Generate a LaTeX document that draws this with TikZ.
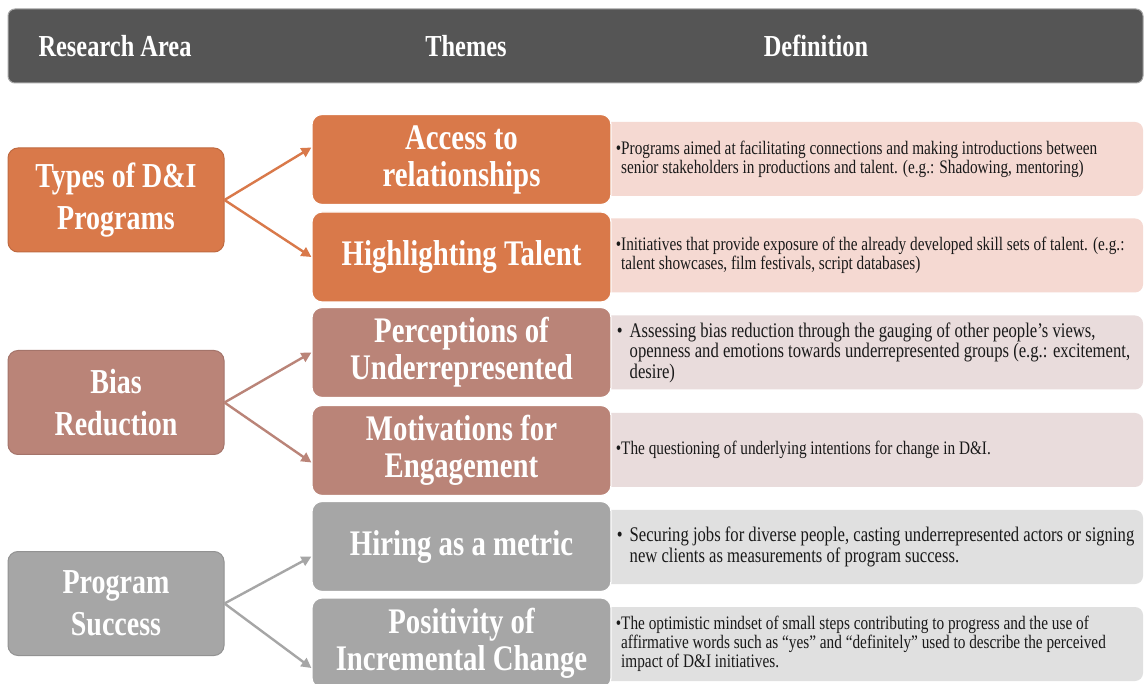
\documentclass[tikz,border=0pt]{standalone}
\usepackage{fontspec}
\setmainfont{Liberation Serif}[FakeStretch=0.8]
\usetikzlibrary{arrows.meta}

\definecolor{headgray}{HTML}{555555}
\definecolor{typesclr}{HTML}{D9794A}
\definecolor{biasclr}{HTML}{BA8478}
\definecolor{succclr}{HTML}{A6A6A6}
\definecolor{typesdef}{HTML}{F5D9D2}
\definecolor{biasdef}{HTML}{E9DCDC}
\definecolor{succdef}{HTML}{E0E0E0}

\newcommand{\bul}{\llap{\textbullet}}
\newcommand{\widebul}{\llap{\textbullet\hspace{7pt}}}

\tikzset{
  headtext/.style={text=white, font=\bfseries\fontsize{30.5}{32}\selectfont},
  areabox/.style={fill=#1, draw=#1!88!black, line width=1pt, rounded corners=10pt,
    minimum width=216pt, minimum height=104pt, align=center, text=white,
    font=\bfseries\fontsize{35}{42}\selectfont},
  themebox/.style={fill=#1, draw=white, line width=1.2pt, rounded corners=10pt,
    minimum width=299pt, minimum height=90pt, align=center, text=white,
    font=\bfseries\fontsize{36}{37}\selectfont},
  defbox/.style={fill=#1, rounded corners=8pt, minimum width=543pt, minimum height=74pt},
  deftext/.style={anchor=west, inner sep=0pt, align=left, text=black!90,
    font=\fontsize{19.1}{19}\selectfont},
  widetext/.style={deftext, font=\fontsize{20.8}{20.5}\selectfont},
  flow/.style={draw=#1, line width=2.4pt, -{Triangle[length=10pt, width=10pt]}}
}

\begin{document}
\begin{tikzpicture}[x=1pt, y=-1pt]
    \clip (0,0) rectangle (1144,684);
    \fill[white] (0,0) rectangle (1144,684);

    % header bar
    \node[fill=headgray, draw=black!35, line width=1pt, rounded corners=7pt,
        minimum width=1135pt, minimum height=74pt] (header) at (575.5,46) {};
    \node[headtext] (hdarea) at (115,46) {Research Area};
    \node[headtext] (hdthemes) at (466,46) {Themes};
    \node[headtext] (hddef) at (816,46) {Definition};

    % definition strips, under the theme boxes
    \node[defbox=typesdef] (def1) at (871.5,159) {};
    \node[defbox=typesdef] (def2) at (871.5,255.5) {};
    \node[defbox=biasdef] (def3) at (871.5,352.5) {};
    \node[defbox=biasdef] (def4) at (871.5,450) {};
    \node[defbox=succdef] (def5) at (871.5,547) {};
    \node[defbox=succdef] (def6) at (871.5,644) {};

    % research areas
    \node[areabox=typesclr] (types) at (116,200) {Types of D\&I\\Programs};
    \node[areabox=biasclr] (bias) at (116,402.5) {Bias\\Reduction};
    \node[areabox=succclr] (success) at (116,603.5) {Program\\Success};

    % themes
    \node[themebox=typesclr] (access) at (461.5,159.5) {Access to\\relationships};
    \node[themebox=typesclr] (talent) at (461.5,257) {Highlighting Talent};
    \node[themebox=biasclr] (percep) at (461.5,352.5) {Perceptions of\\Underrepresented};
    \node[themebox=biasclr] (motiv) at (461.5,450.5) {Motivations for\\Engagement};
    \node[themebox=succclr] (hiring) at (461.5,546.5) {Hiring as a metric};
    \node[themebox=succclr] (positiv) at (461.5,643) {Positivity of\\Incremental Change};

    \draw[flow=typesclr] (types.east) -- ([yshift=12pt]access.west);
    \draw[flow=typesclr] (types.east) -- (talent.west);
    \draw[flow=biasclr] (bias.east) -- (percep.west);
    \draw[flow=biasclr] (bias.east) -- ([yshift=-12pt]motiv.west);
    \draw[flow=succclr] (success.east) -- ([yshift=-10pt]hiring.west);
    \draw[flow=succclr] (success.east) -- ([yshift=-25pt]positiv.west);

    % definitions
    \node[deftext] (txt1) at (621,159) {\bul Programs aimed at facilitating connections and making introductions between\\
        senior stakeholders in productions and talent. (e.g.: Shadowing, mentoring)};
    \node[deftext] (txt2) at (621,255.5) {\bul Initiatives that provide exposure of the already developed skill sets of talent. (e.g.:\\
        talent showcases, film festivals, script databases)};
    \node[widetext] (txt3) at (629.5,352.5) {\widebul Assessing bias reduction through the gauging of other people’s views,\\
        openness and emotions towards underrepresented groups (e.g.: excitement,\\ desire)};
    \node[deftext] (txt4) at (621,450) {\bul The questioning of underlying intentions for change in D\&I.};
    \node[widetext] (txt5) at (629.5,547) {\widebul Securing jobs for diverse people, casting underrepresented actors or signing\\
        new clients as measurements of program success.};
    \node[deftext] (txt6) at (621,644) {\bul The optimistic mindset of small steps contributing to progress and the use of\\
        affirmative words such as “yes” and “definitely” used to describe the perceived\\
        impact of D\&I initiatives.};
\end{tikzpicture}
\end{document}
